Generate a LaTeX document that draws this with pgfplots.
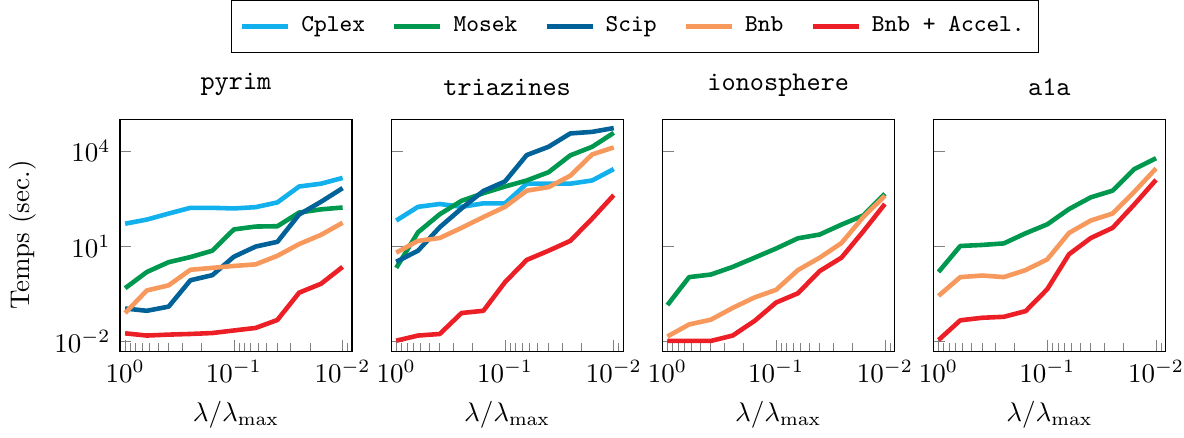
\documentclass[border=0pt]{standalone}
\usepackage{pgfplots}
\pgfplotsset{compat=1.18}
\usepgfplotslibrary{groupplots}

\definecolor{cplex}{RGB}{18,176,236}
\definecolor{mosek}{RGB}{0,152,78}
\definecolor{scip}{RGB}{0,98,152}
\definecolor{bnb}{RGB}{247,152,92}
\definecolor{accel}{RGB}{236,30,38}

\pgfplotsset{
  every axis plot/.append style={line width=1.7pt, line join=round},
}

\begin{document}
\begin{tikzpicture}
\begin{groupplot}[
  group style={group size=4 by 1, horizontal sep=14.5pt, yticklabels at=edge left},
  width=86pt, height=86pt, scale only axis,
  xmode=log, ymode=log, x dir=reverse,
  xmin=0.0082, xmax=1.115, ymin=0.005, ymax=1e5,
  xtick={1,0.1,0.01}, ytick={1e-2,1e1,1e4},
  minor xtick={0.9,0.8,0.7,0.6,0.5,0.4,0.3,0.2,
    0.09,0.08,0.07,0.06,0.05,0.04,0.03,0.02,0.009},
  xtick pos=bottom, ytick pos=left,
  tick style={gray},
  xticklabel style={inner xsep=0pt},
  xlabel={$\lambda/\lambda_{\max}$},
  title style={font=\ttfamily, yshift=-1pt},
]
\nextgroupplot[title=pyrim, ylabel={Temps (sec.)},
  legend style={at={(2.22,1.40)}, anchor=center, legend columns=5,
    font=\small\ttfamily, draw=black, inner ysep=4pt,
    /tikz/every odd column/.append style={column sep=2pt},
    /tikz/every even column/.append style={column sep=8pt}}]
\addplot[cplex] coordinates {(1,51.3) (0.631,69.2) (0.398,107) (0.251,162) (0.158,162) (0.1,155) (0.0631,170) (0.0398,240) (0.0251,759) (0.0158,933) (0.01,1413)};
\addplot[mosek] coordinates {(1,0.479) (0.631,1.55) (0.398,3.16) (0.251,4.57) (0.158,7.24) (0.1,33.9) (0.0631,41.7) (0.0398,42.7) (0.0251,115) (0.0158,145) (0.01,166)};
\addplot[scip] coordinates {(1,0.110) (0.631,0.0933) (0.398,0.126) (0.251,0.851) (0.158,1.23) (0.1,4.68) (0.0631,9.77) (0.0398,13.8) (0.0251,100) (0.0158,251) (0.01,676)};
\addplot[bnb] coordinates {(1,0.0794) (0.631,0.407) (0.398,0.589) (0.251,1.82) (0.158,2.09) (0.1,2.40) (0.0631,2.69) (0.0398,5.01) (0.0251,11.7) (0.0158,22.9) (0.01,55.0)};
\addplot[accel] coordinates {(1,0.0182) (0.631,0.0155) (0.398,0.0166) (0.251,0.0174) (0.158,0.0186) (0.1,0.0224) (0.0631,0.0269) (0.0398,0.0479) (0.0251,0.347) (0.0158,0.661) (0.01,2.24)};
\legend{Cplex, Mosek, Scip, Bnb, Bnb + Accel.}

\nextgroupplot[title=triazines]
\addplot[cplex] coordinates {(1,64.6) (0.631,174) (0.398,214) (0.251,174) (0.158,224) (0.1,224) (0.0631,933) (0.0398,933) (0.0251,933) (0.0158,1175) (0.01,2692)};
\addplot[mosek] coordinates {(1,2.09) (0.631,27.5) (0.398,102) (0.251,269) (0.158,468) (0.1,759) (0.0631,1175) (0.0398,2138) (0.0251,7244) (0.0158,13490) (0.01,37150)};
\addplot[scip] coordinates {(1,3.24) (0.631,7.24) (0.398,39.8) (0.251,155) (0.158,550) (0.1,1096) (0.0631,7413) (0.0398,13490) (0.0251,35480) (0.0158,39810) (0.01,52480)};
\addplot[bnb] coordinates {(1,6.31) (0.631,14.8) (0.398,18.2) (0.251,38.0) (0.158,83.2) (0.1,174) (0.0631,562) (0.0398,724) (0.0251,1660) (0.0158,7762) (0.01,12880)};
\addplot[accel] coordinates {(1,0.0107) (0.631,0.0155) (0.398,0.0174) (0.251,0.0794) (0.158,0.0933) (0.1,0.741) (0.0631,3.72) (0.0398,7.24) (0.0251,14.8) (0.0158,74.1) (0.01,407)};

\nextgroupplot[title=ionosphere]
\addplot[mosek] coordinates {(1,0.141) (0.631,1.07) (0.398,1.29) (0.251,2.24) (0.158,4.37) (0.1,8.51) (0.0631,17.8) (0.0398,23.4) (0.0251,47.9) (0.0158,93.3) (0.01,447)};
\addplot[bnb] coordinates {(1,0.0145) (0.631,0.0347) (0.398,0.0490) (0.251,0.115) (0.158,0.245) (0.1,0.427) (0.0631,1.78) (0.0398,4.37) (0.0251,12.6) (0.0158,83.2) (0.01,389)};
\addplot[accel] coordinates {(1,0.0105) (0.631,0.0105) (0.398,0.0105) (0.251,0.0155) (0.158,0.0447) (0.1,0.170) (0.0631,0.331) (0.0398,1.66) (0.0251,4.37) (0.0158,29.5) (0.01,214)};

\nextgroupplot[title=a1a]
\addplot[mosek] coordinates {(1,1.55) (0.631,10.2) (0.398,11.0) (0.251,12.3) (0.158,25.7) (0.1,49.0) (0.0631,148) (0.0398,347) (0.0251,562) (0.0158,2692) (0.01,5888)};
\addplot[bnb] coordinates {(1,0.275) (0.631,1.07) (0.398,1.20) (0.251,1.07) (0.158,1.78) (0.1,3.89) (0.0631,26.3) (0.0398,64.6) (0.0251,107) (0.0158,525) (0.01,2818)};
\addplot[accel] coordinates {(1,0.0112) (0.631,0.0468) (0.398,0.0562) (0.251,0.0603) (0.158,0.0912) (0.1,0.447) (0.0631,5.62) (0.0398,18.2) (0.0251,38.0) (0.0158,209) (0.01,1230)};
\end{groupplot}
\end{tikzpicture}
\end{document}
